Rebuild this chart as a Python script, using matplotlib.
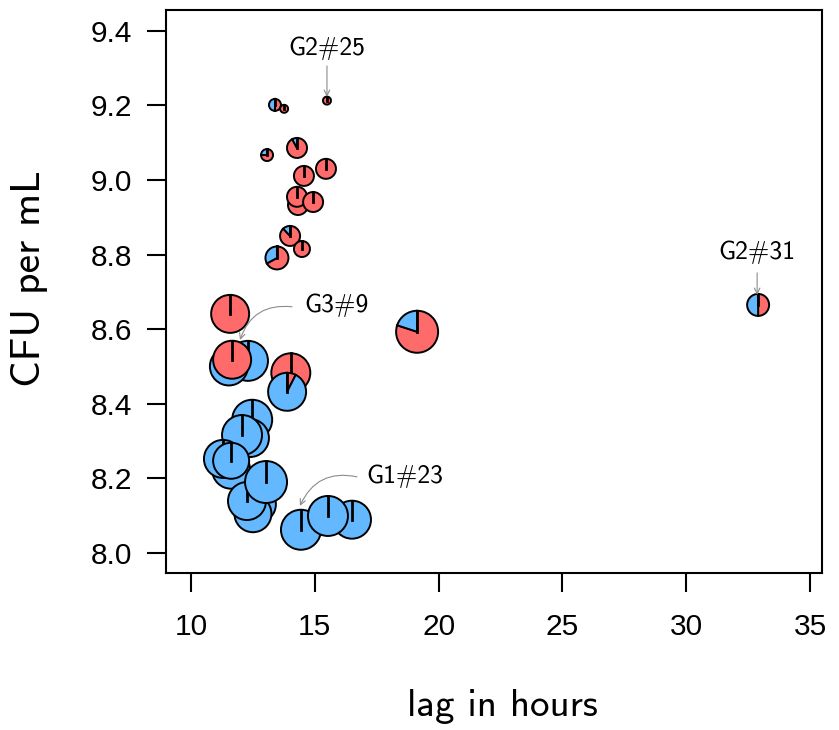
import matplotlib
matplotlib.use("Agg")
import matplotlib.pyplot as plt
from matplotlib.patches import Wedge
from matplotlib.lines import Line2D
from matplotlib import transforms

BLUE = "#63B8FF"
RED = "#FF6A6A"

# lag in hours, log10 CFU per mL, blue share of each glyph, glyph radius (px)
lag = [13.39, 13.76, 15.49, 13.07, 14.28, 15.45, 14.56, 14.32, 14.28, 14.93,
       14.00, 14.48, 13.47,
       11.58, 12.30, 11.53, 11.66, 14.03, 13.88, 19.13, 32.90,
       12.47, 12.38, 12.06, 11.62, 11.29, 11.62, 12.70, 12.50, 12.26, 13.03,
       14.44, 16.50, 15.53]
cfu = [9.2015, 9.191, 9.213, 9.067, 9.086, 9.030, 9.011, 8.933, 8.955, 8.941,
       8.850, 8.815, 8.791,
       8.641, 8.515, 8.500, 8.518, 8.483, 8.432, 8.593, 8.665,
       8.357, 8.308, 8.316, 8.223, 8.252, 8.247, 8.130, 8.105, 8.139, 8.190,
       8.062, 8.089, 8.099]
blue_frac = [0.5, 0.0, 0.0, 0.25, 0.08, 0.0, 0.0, 0.0, 0.0, 0.0,
             0.12, 0.0, 0.33,
             0.0, 1.0, 1.0, 0.0, 0.0, 0.925, 0.2, 0.5,
             1.0, 1.0, 1.0, 1.0, 1.0, 1.0, 1.0, 1.0, 1.0, 1.0,
             1.0, 1.0, 1.0]
glyph_size = [6, 4, 4, 6, 10, 10, 10, 10, 10, 10,
              10, 8, 11.5,
              19, 20, 19, 19, 19.5, 19, 21, 11,
              20, 19, 20, 19, 19, 18, 18, 18.5, 19, 21,
              20, 19, 20]

# labelled samples: text position, arrow start, arrow tip, curvature
labels = ["G2#25", "G2#31", "G3#9", "G1#23"]
label_pos = [(15.49, 9.354), (32.86, 8.807), (15.86, 8.665), (18.64, 8.2065)]
arrow_from = [(15.49, 9.306), (32.86, 8.751), (14.08, 8.660), (16.70, 8.204)]
arrow_to = [(15.49, 9.223), (32.86, 8.692), (11.98, 8.571), (14.40, 8.126)]
arrow_rad = [0.0, 0.0, 0.4, 0.4]

fig = plt.figure(figsize=(8.39, 7.30), dpi=100)
ax = fig.add_axes([166 / 839, 1 - 573 / 730, (822 - 166) / 839, (573 - 10) / 730])
ax.set_xlim(8.99, 35.48)
ax.set_ylim(7.946, 9.456)

for i, (x, y, b, r) in enumerate(zip(lag, cfu, blue_frac, glyph_size)):
    tr = fig.dpi_scale_trans + transforms.ScaledTranslation(x, y, ax.transData)
    rad = r / 100.0
    z = 3 + i * 0.01
    red = 1.0 - b
    if red > 0:
        ax.add_patch(Wedge((0, 0), rad, 90 - 360 * red, 90, transform=tr,
                           facecolor=RED, edgecolor="black", lw=1.4, zorder=z))
    if b > 0:
        ax.add_patch(Wedge((0, 0), rad, 90, 90 + 360 * b, transform=tr,
                           facecolor=BLUE, edgecolor="black", lw=1.4, zorder=z))
    ax.add_line(Line2D([0, 0], [0, rad], transform=tr, color="black",
                       lw=2.0, zorder=z + 0.001))

for txt, pos, a0, a1, rr in zip(labels, label_pos, arrow_from, arrow_to, arrow_rad):
    ax.text(pos[0], pos[1], txt, ha="center", va="center", fontsize=18.5,
            family="cmss10", zorder=10)
    ax.annotate("", xy=a1, xytext=a0,
                arrowprops=dict(arrowstyle="->", color="#8c8c8c", lw=0.8,
                                shrinkA=0, shrinkB=0,
                                connectionstyle="arc3,rad=%g" % rr),
                zorder=10)

ax.set_xticks([10, 15, 20, 25, 30, 35])
ax.set_yticks([8.0, 8.2, 8.4, 8.6, 8.8, 9.0, 9.2, 9.4])
ax.set_yticklabels(["8.0", "8.2", "8.4", "8.6", "8.8", "9.0", "9.2", "9.4"])
for s in ax.spines.values():
    s.set_linewidth(1.5)
ax.tick_params(direction="out", length=13.5, width=1.5, labelsize=21.5)
ax.tick_params(axis="x", pad=15)
ax.tick_params(axis="y", pad=11)
for lab in ax.get_xticklabels() + ax.get_yticklabels():
    lab.set_family("Liberation Sans")

fig.text(502 / 839, 1 - 706 / 730, "lag in hours", ha="center", va="center",
         fontsize=28, family="cmss10")
fig.text(30 / 839, 1 - 279 / 730, "CFU per mL", ha="center", va="center",
         fontsize=30, family="cmss10", rotation=90)

fig.savefig("out.png", dpi=100)
